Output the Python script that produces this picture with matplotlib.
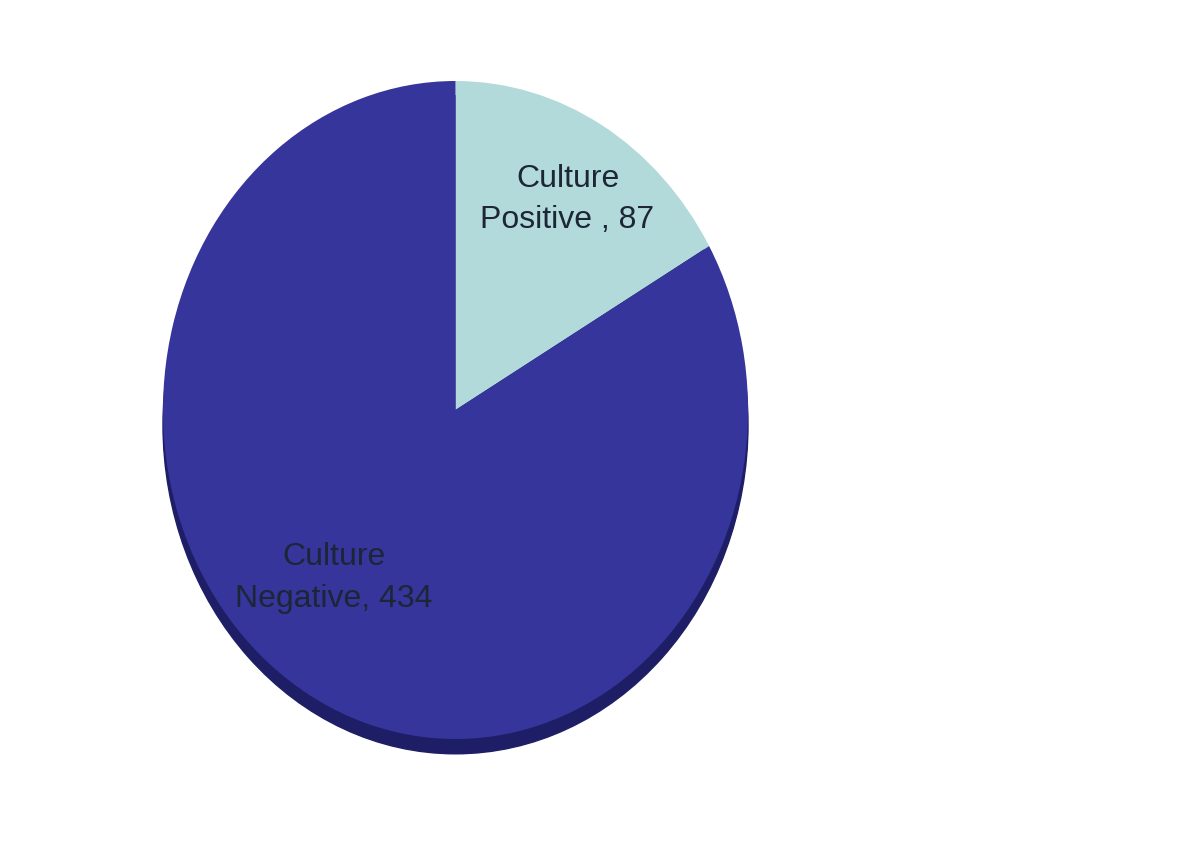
import matplotlib
matplotlib.use('Agg')
from matplotlib import pyplot as plt
from matplotlib.patches import Ellipse

# data
labels = ['Culture\nPositive , 87', 'Culture\nNegative, 434']
values = [87, 434]
colors = ['#b2dada', '#35359b']
label_pos = [(0.383, 0.64), (-0.417, -0.51)]

plt.rcParams['font.family'] = ['Liberation Sans', 'DejaVu Sans']

fig = plt.figure(figsize=(12, 8.42), dpi=100)
# pie is an ellipse: 585 px wide, ~658 px tall, centre at (455, 410)
ax = fig.add_axes([163 / 1200, (842 - 739) / 842, 585 / 1200, 658 / 842])

# dark rim / shadow under the pie
ax.add_patch(Ellipse((0, -0.045), 2.0, 2.0, color='#1e1e66', zorder=0,
                     clip_on=False))

wedges, _ = ax.pie(values, colors=colors, startangle=90, counterclock=False,
                   radius=1.0, wedgeprops=dict(linewidth=0))
for w in wedges:
    w.set_zorder(1)
    w.set_clip_on(False)

for txt, (x, y) in zip(labels, label_pos):
    ax.text(x, y, txt, ha='center', va='center', fontsize=23,
            color='#1c2636', linespacing=1.5, zorder=3)

ax.set_aspect('auto')
ax.set_xlim(-1, 1)
ax.set_ylim(-1, 1)
ax.axis('off')

fig.savefig('out.png', dpi=100)
